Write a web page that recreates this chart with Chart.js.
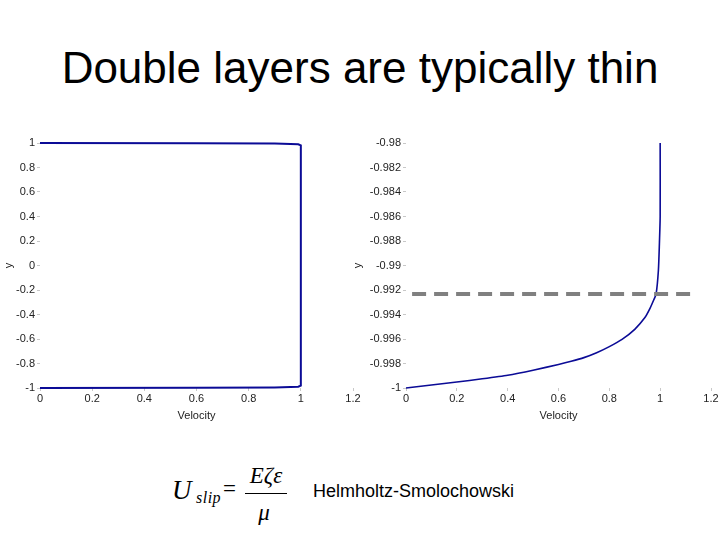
<!DOCTYPE html>
<html>
<head>
<meta charset="utf-8">
<script src="https://cdn.jsdelivr.net/npm/chart.js@4.4.1/dist/chart.umd.min.js"></script>
<style>
  html, body { margin:0; padding:0; background:#fff; }
  body { width:720px; height:540px; position:relative; overflow:hidden; }
  .abs { position:absolute; white-space:nowrap; }
  #title { left:0; width:720px; top:46px; text-align:center; font:44px/44px "Liberation Sans", Arial, sans-serif; color:#000; }
  .serif { font-family:"Liberation Serif","Times New Roman",serif; font-style:italic; color:#000; }
  #c1 { position:absolute; left:0; top:120px; }
  #c2 { position:absolute; left:340px; top:120px; }
</style>
</head>
<body>
<div id="title" class="abs">Double layers are typically thin</div>
<canvas id="c1" width="372" height="305"></canvas>
<canvas id="c2" width="380" height="305"></canvas>

<span class="abs serif" style="left:172px;top:477px;font-size:27px;line-height:27px;">U</span>
<span class="abs serif" style="left:196px;top:490px;font-size:16px;line-height:16px;letter-spacing:0.5px;">slip</span>
<span class="abs" style="left:223px;top:477px;font:23px/23px 'Liberation Serif',serif;">=</span>
<span class="abs serif" style="left:244px;width:44px;text-align:center;top:464px;font-size:23px;line-height:23px;">E&#950;&#949;</span>
<div class="abs" style="left:245px;top:493px;width:42px;height:1px;background:#000;"></div>
<span class="abs serif" style="left:245px;width:38px;text-align:center;top:501px;font-size:23px;line-height:23px;">&#956;</span>
<span class="abs" style="left:313px;top:482px;font:18px/18px 'Liberation Sans',Arial,sans-serif;color:#000;">Helmholtz-Smolochowski</span>

<script>
// ---- data ----
const xTickValues = [0, 0.2, 0.4, 0.6, 0.8, 1, 1.2];
const xTickLabels = ['0', '0.2', '0.4', '0.6', '0.8', '1', '1.2'];

const leftYTickValues = [-1, -0.8, -0.6, -0.4, -0.2, 0, 0.2, 0.4, 0.6, 0.8, 1];
const leftYTickLabels = ['-1', '-0.8', '-0.6', '-0.4', '-0.2', '0', '0.2', '0.4', '0.6', '0.8', '1'];

const rightYTickValues = [-1, -0.998, -0.996, -0.994, -0.992, -0.99, -0.988, -0.986, -0.984, -0.982, -0.98];
const rightYTickLabels = ['-1', '-0.998', '-0.996', '-0.994', '-0.992', '-0.99', '-0.988', '-0.986', '-0.984', '-0.982', '-0.98'];

// full channel velocity profile (velocity vs y)
const leftVelocity = [0, 0.6, 0.9, 0.99, 1, 1, 0.99, 0.9, 0.6, 0];
const leftY        = [-1, -0.998, -0.995, -0.99, -0.98, 0.98, 0.99, 0.995, 0.998, 1];

// zoom into the lower wall double layer
const rightVelocity = [0, 0.1, 0.2, 0.3, 0.4, 0.5, 0.6, 0.65, 0.7, 0.75, 0.8, 0.85, 0.9, 0.94, 0.96, 0.975, 0.984, 0.993, 0.997, 1, 1];
const rightY        = [-1, -0.99975, -0.99951, -0.99925, -0.99896, -0.99855, -0.99808, -0.99782, -0.99752, -0.99712, -0.99662, -0.99603, -0.99521, -0.99425, -0.9935, -0.9928, -0.99233, -0.99041, -0.98822, -0.98603, -0.98];

// dashed reference line
const dashVelocity = [0.024, 1.13];
const dashY        = [-0.99233, -0.99233];

// ---- build ----
const toPts = (xs, ys) => xs.map((x, i) => ({x: x, y: ys[i]}));
const tickFont = {family: "'Liberation Sans', Arial, sans-serif", size: 11};
const gridOpts = {drawOnChartArea: false, drawTicks: true, tickLength: 3, color: '#c8c8c8'};

function makeChart(id, yWidth, padRight, yTitlePad, yVals, yLabels, yMin, yMax, datasets) {
  return new Chart(document.getElementById(id), {
    type: 'scatter',
    data: {datasets: datasets},
    options: {
      responsive: false,
      animation: false,
      devicePixelRatio: 1,
      layout: {padding: {left: 0, top: 23, right: padRight, bottom: 0}},
      plugins: {legend: {display: false}, tooltip: {enabled: false}},
      elements: {point: {radius: 0}},
      scales: {
        x: {
          type: 'linear', min: 0, max: 1.2,
          afterBuildTicks: s => { s.ticks = xTickValues.map(v => ({value: v})); },
          afterFit: s => { s.height = 37; },
          ticks: {autoSkip: false, maxRotation: 0, padding: 1, color: '#222', font: tickFont,
                  callback: (v, i) => xTickLabels[i]},
          grid: gridOpts,
          border: {display: false},
          title: {display: true, text: 'Velocity', color: '#222', font: tickFont, padding: {top: 0, bottom: 2}}
        },
        y: {
          type: 'linear', min: yMin, max: yMax,
          afterBuildTicks: s => { s.ticks = yVals.map(v => ({value: v})); },
          afterFit: s => { s.width = yWidth; },
          ticks: {autoSkip: false, padding: 2, color: '#222', font: tickFont,
                  callback: (v, i) => yLabels[i]},
          grid: gridOpts,
          border: {display: false},
          title: {display: true, text: 'y', color: '#222', font: tickFont, padding: {top: yTitlePad, bottom: 0}}
        }
      }
    }
  });
}

makeChart('c1', 40, 19, 2, leftYTickValues, leftYTickLabels, -1, 1, [
  {data: toPts(leftVelocity, leftY), showLine: true, borderColor: '#0b0b96', borderWidth: 2, clip: 6}
]);

makeChart('c2', 66, 9, 11, rightYTickValues, rightYTickLabels, -1, -0.98, [
  {data: toPts(dashVelocity, dashY), showLine: true, borderColor: '#808080', borderWidth: 4, borderDash: [14, 8], clip: 6},
  {data: toPts(rightVelocity, rightY), showLine: true, borderColor: '#0b0b96', borderWidth: 1.6, tension: 0.2, clip: 6}
]);
</script>
</body>
</html>
